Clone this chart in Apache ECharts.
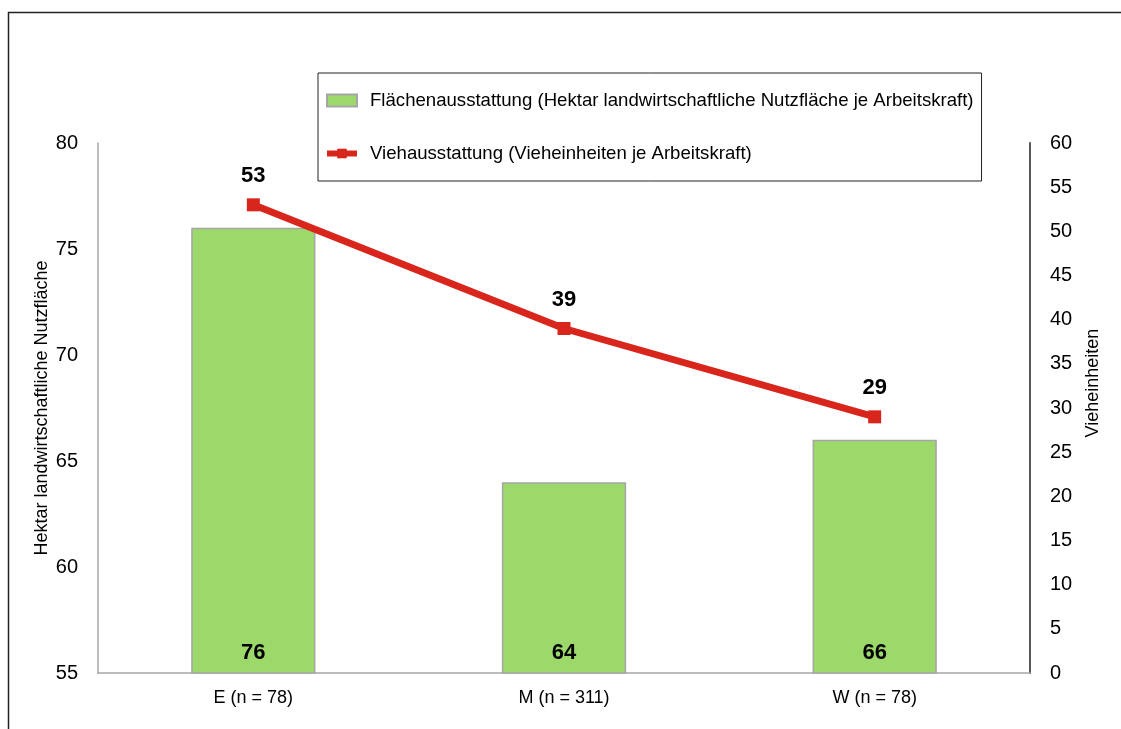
<!DOCTYPE html>
<html>
<head>
    <meta charset="utf-8">
    <title>Flächen- und Viehausstattung</title>
    <script src="https://cdn.jsdelivr.net/npm/echarts@6/dist/echarts.min.js"></script>
    <style>
        body { margin: 0; background: #fff; }
    </style>
</head>
<body>
    <div id="main" style="width: 1121px;height:729px;"></div>
    <script type="text/javascript">
        // Daten
        var categories = ['E (n = 78)', 'M (n = 311)', 'W (n = 78)'];
        var flaeche = [76, 64, 66];
        var vieh = [53, 39, 29];
        var leftTicks = [55, 80, 5];   // min, max, interval
        var rightTicks = [0, 60, 5];

        var FONT = "'Liberation Sans', Arial, sans-serif";

        var myChart = echarts.init(document.getElementById('main'));

        var option = {
            backgroundColor: '#fff',
            animation: false,
            textStyle: { fontFamily: FONT },
            graphic: [{
                type: 'rect',
                shape: { x: 8.5, y: 12.5, width: 1300, height: 900 },
                style: { fill: 'none', stroke: '#222', lineWidth: 1.5 },
                silent: true
            }],
            legend: {
                orient: 'vertical',
                left: 318,
                top: 73,
                padding: [18, 8, 18, 6],
                itemGap: 34,
                itemWidth: 30,
                itemHeight: 12,
                borderColor: '#222',
                borderWidth: 1,
                textStyle: { fontFamily: FONT, fontSize: 18.6, color: '#000', padding: [0, 0, 0, 8] },
                data: [
                    { name: 'Flächenausstattung (Hektar landwirtschaftliche Nutzfläche je Arbeitskraft)', icon: 'rect' },
                    { name: 'Viehausstattung (Vieheinheiten je Arbeitskraft)', lineStyle: { width: 6 } }
                ]
            },
            grid: { left: 98, right: 91, top: 143, bottom: 56 },
            xAxis: {
                type: 'category',
                data: categories,
                axisLine: { lineStyle: { color: '#a6a6a6', width: 1.5 } },
                axisTick: { show: false },
                axisLabel: { color: '#000', fontSize: 18, margin: 16, fontFamily: FONT }
            },
            yAxis: [{
                type: 'value',
                min: leftTicks[0],
                max: leftTicks[1],
                interval: leftTicks[2],
                name: 'Hektar landwirtschaftliche Nutzfläche',
                nameLocation: 'middle',
                nameRotate: 90,
                nameGap: 47,
                nameMoveOverlap: false,
                nameTextStyle: { color: '#000', fontSize: 18, fontFamily: FONT },
                axisLine: { show: true, lineStyle: { color: '#a6a6a6', width: 1.5 } },
                axisTick: { show: false },
                splitLine: { show: false },
                axisLabel: { color: '#000', fontSize: 20, margin: 20, fontFamily: FONT }
            }, {
                type: 'value',
                position: 'right',
                min: rightTicks[0],
                max: rightTicks[1],
                interval: rightTicks[2],
                name: 'Vieheinheiten',
                nameLocation: 'middle',
                nameRotate: 90,
                nameGap: 54,
                nameTextStyle: { color: '#000', fontSize: 18, fontFamily: FONT, padding: [0, 0, 0, 50] },
                axisLine: { show: true, lineStyle: { color: '#595959', width: 2 } },
                axisTick: { show: false },
                splitLine: { show: false },
                axisLabel: { color: '#000', fontSize: 20, margin: 20, fontFamily: FONT }
            }],
            series: [{
                name: 'Flächenausstattung (Hektar landwirtschaftliche Nutzfläche je Arbeitskraft)',
                type: 'bar',
                data: flaeche,
                barWidth: '40%',
                itemStyle: { color: '#9dd86b', borderColor: '#a6a6a6', borderWidth: 1.5 },
                label: {
                    show: true,
                    position: 'insideBottom',
                    distance: 10,
                    color: '#000',
                    fontSize: 22,
                    fontWeight: 'bold',
                    fontFamily: FONT
                }
            }, {
                name: 'Viehausstattung (Vieheinheiten je Arbeitskraft)',
                type: 'line',
                yAxisIndex: 1,
                data: vieh,
                symbol: 'rect',
                symbolSize: 13,
                lineStyle: { color: '#d9261c', width: 7 },
                itemStyle: { color: '#d9261c' },
                label: {
                    show: true,
                    position: 'top',
                    distance: 11,
                    color: '#000',
                    fontSize: 22,
                    fontWeight: 'bold',
                    fontFamily: FONT
                }
            }]
        };

        myChart.setOption(option);
    </script>
</body>
</html>
